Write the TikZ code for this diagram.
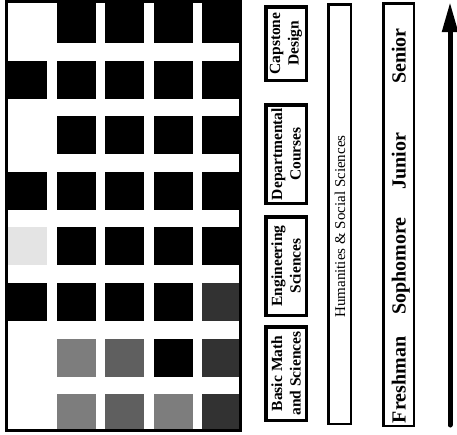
\documentclass[tikz,border=0pt]{standalone}
\usepackage{fontspec}
\setmainfont{Liberation Serif}
\usetikzlibrary{arrows.meta}
\definecolor{specklepale}{RGB}{228,228,228}
\definecolor{specklelight}{RGB}{125,125,125}
\definecolor{specklemid}{RGB}{95,95,95}
\definecolor{speckledark}{RGB}{50,50,50}
\tikzset{
    cell/.style={fill=black},
    course/.style={rectangle, draw, line width=3.5pt, fill=white, rotate=90, inner sep=0pt, minimum height=40.5pt, align=center, font=\fontsize{15.5}{18.5}\selectfont\bfseries},
    band/.style={rectangle, draw, line width=2.5pt, rotate=90, inner sep=0pt},
    bandtext/.style={rotate=90, inner sep=0pt, font=\fontsize{15}{17}\selectfont},
    year/.style={rotate=90, inner sep=0pt, text height=13pt, text depth=0pt, font=\fontsize{20}{22}\selectfont\bfseries},
    progress/.style={line width=5pt, line cap=round, -{Triangle[length=30pt, width=15pt]}}
}

\begin{document}
\begin{tikzpicture}[x=1pt, y=-1pt]
    \useasboundingbox (0,0) rectangle (457,434);

    % --- CURRICULUM GRID ---
    \foreach \r in {0,...,7}
        \foreach \c in {1,...,4}
            \fill[cell] ({8+48.5*\c},{5+55.6*\r-3*(\r==0)}) rectangle ({47+48.5*\c},{43+55.6*\r});
    \foreach \r in {1,3,5}
        \fill[cell] (8,{5+55.6*\r}) rectangle (47,{43+55.6*\r});

    % Speckled cells
    \foreach \c/\r/\tone in {0/4/specklepale, 4/5/speckledark, 1/6/specklelight, 2/6/specklemid, 4/6/speckledark, 1/7/specklelight, 2/7/specklemid, 3/7/specklelight, 4/7/speckledark}
        \fill[\tone] ({8+48.5*\c},{5+55.6*\r}) rectangle ({47+48.5*\c},{43+55.6*\r});

    \draw[line width=3pt] (6.5,1.5) rectangle (240.5,430.5);

    % --- COURSE BLOCKS ---
    \node[course, minimum width=73.5pt] (capstone) at (286,43.5) {Capstone\\Design};
    \node[course, minimum width=98.5pt] (dept) at (286,154) {Departmental\\Courses};
    \node[course, minimum width=98.5pt] (eng) at (286,266) {Engineering\\Sciences};
    \node[course, minimum width=93.5pt] (basic) at (286,373.5) {Basic Math\\and Sciences};

    % --- HUMANITIES BAND ---
    \node[band, minimum width=419.5pt, minimum height=22.5pt] (hss) at (339.5,214) {};
    \node[bandtext] (hsslabel) at (340,226.5) {Humanities \& Social Sciences};

    % --- YEARS ---
    \node[band, minimum width=422.5pt, minimum height=30.5pt] (years) at (398.5,214.5) {};
    \node[year] (freshman) at (399,380) {Freshman};
    \node[year] (sophomore) at (399,266) {Sophomore};
    \node[year] (junior) at (399,161) {Junior};
    \node[year] (senior) at (399,56) {Senior};

    \coordinate (arrowtail) at (450,425);
    \coordinate (arrowtip) at (450,2);
    \draw[progress] (arrowtail) -- (arrowtip);

\end{tikzpicture}
\end{document}
